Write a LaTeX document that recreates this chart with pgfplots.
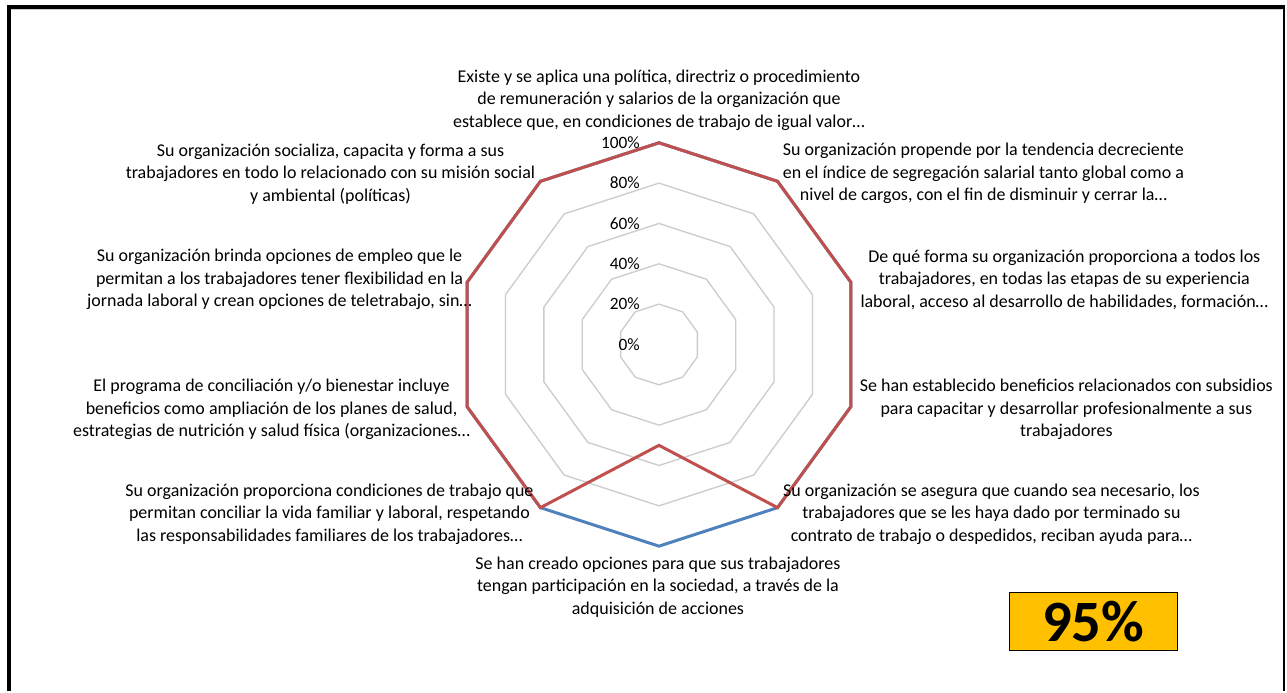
\documentclass[border=0pt]{standalone}
\usepackage{fontspec}
\setmainfont{Carlito}
\usepackage{pgfplots}
\pgfplotsset{compat=1.18}
\usepgfplotslibrary{polar}
\definecolor{redS}{HTML}{C0504D}
\definecolor{blueS}{HTML}{4F81BD}
\definecolor{gridc}{HTML}{CCCCCC}
\definecolor{gold}{HTML}{FFC000}
\tikzset{tlabel/.style={anchor=east, inner sep=0pt, font=\fontsize{13}{15}\selectfont, xshift=-14.25pt}}
\newcommand{\lbl}[3]{\node[align=center, font=\fontsize{13.5}{16.9}\selectfont, inner sep=0pt] at (#1,#2) {#3};}
\begin{document}
\begin{tikzpicture}
\begin{scope}[x=0.75pt,y=-0.75pt]
\useasboundingbox (0,0) rectangle (1287,692);
\fill[white] (0,0) rectangle (1287,692);
\end{scope}
\begin{polaraxis}[at={(495pt,-258.75pt)}, anchor=center,
  width=303pt, height=303pt, scale only axis,
  ymin=0, ymax=100, hide axis, clip=false]
% grid decagons
\addplot[gridc, line width=1pt, mark=none] coordinates {(90,20) (54,20) (18,20) (-18,20) (-54,20) (-90,20) (-126,20) (-162,20) (-198,20) (-234,20)} -- cycle;
\addplot[gridc, line width=1pt, mark=none] coordinates {(90,40) (54,40) (18,40) (-18,40) (-54,40) (-90,40) (-126,40) (-162,40) (-198,40) (-234,40)} -- cycle;
\addplot[gridc, line width=1pt, mark=none] coordinates {(90,60) (54,60) (18,60) (-18,60) (-54,60) (-90,60) (-126,60) (-162,60) (-198,60) (-234,60)} -- cycle;
\addplot[gridc, line width=1pt, mark=none] coordinates {(90,80) (54,80) (18,80) (-18,80) (-54,80) (-90,80) (-126,80) (-162,80) (-198,80) (-234,80)} -- cycle;
\addplot[gridc, line width=1pt, mark=none] coordinates {(90,100) (54,100) (18,100) (-18,100) (-54,100) (-90,100) (-126,100) (-162,100) (-198,100) (-234,100)} -- cycle;
% series
\addplot[blueS, line width=2.25pt, mark=none, line join=miter] coordinates {(90,100) (54,100) (18,100) (-18,100) (-54,100) (-90,100) (-126,100) (-162,100) (-198,100) (-234,100)} -- cycle;
\addplot[redS, line width=2.25pt, mark=none, line join=miter] coordinates {(90,100) (54,100) (18,100) (-18,100) (-54,100) (-90,50) (-126,100) (-162,100) (-198,100) (-234,100)} -- cycle;
% radial tick labels
\node[tlabel] at (axis cs:90,0) {0\%};
\node[tlabel] at (axis cs:90,20) {20\%};
\node[tlabel] at (axis cs:90,40) {40\%};
\node[tlabel] at (axis cs:90,60) {60\%};
\node[tlabel] at (axis cs:90,80) {80\%};
\node[tlabel] at (axis cs:90,100) {100\%};
\end{polaraxis}
\begin{scope}[x=0.75pt,y=-0.75pt]
\draw[black, line width=3pt] (9,5.5) -- (9,692);
\draw[black, line width=3pt] (7.5,7) -- (1287,7);
\draw[black, line width=1.5pt] (1285.5,7) -- (1285.5,692);
\draw[gridc, line width=0.75pt] (11,10) -- (1284,10);
\lbl{660}{100}{Existe y se aplica una política, directriz o procedimiento\\de remuneración y salarios de la organización que\\establece que, en condiciones de trabajo de igual valor…}
\lbl{985}{174}{Su organización propende por la tendencia decreciente\\en el índice de segregación salarial tanto global como a\\nivel de cargos, con el fin de disminuir y cerrar la…}
\lbl{1066}{280}{De qué forma su organización proporciona a todos los\\trabajadores, en todas las etapas de su experiencia\\laboral, acceso al desarrollo de habilidades, formación…}
\lbl{1068}{410}{Se han establecido beneficios relacionados con subsidios\\para capacitar y desarrollar profesionalmente a sus\\trabajadores}
\lbl{993}{515}{Su organización se asegura que cuando sea necesario, los\\trabajadores que se les haya dado por terminado su\\contrato de trabajo o despedidos, reciban ayuda para…}
\lbl{659}{588}{Se han creado opciones para que sus trabajadores\\tengan participación en la sociedad, a través de la\\adquisición de acciones}
\lbl{330}{515}{Su organización proporciona condiciones de trabajo que\\permitan conciliar la vida familiar y laboral, respetando\\las responsabilidades familiares de los trabajadores…}
\lbl{272}{410}{El programa de conciliación y/o bienestar incluye\\beneficios como ampliación de los planes de salud,\\estrategias de nutrición y salud física (organizaciones…}
\lbl{280}{280}{Su organización brinda opciones de empleo que le\\permitan a los trabajadores tener flexibilidad en la\\jornada laboral y crean opciones de teletrabajo, sin…}
\lbl{331}{174}{Su organización socializa, capacita y forma a sus\\trabajadores en todo lo relacionado con su misión social\\y ambiental (políticas)}
\draw[black, fill=gold, line width=1pt] (1011,593.5) rectangle (1179,651.5);
\node[font=\fontsize{44}{48}\selectfont\bfseries, inner sep=0pt] at (1095,623) {95\%};
\end{scope}
\end{tikzpicture}
\end{document}
